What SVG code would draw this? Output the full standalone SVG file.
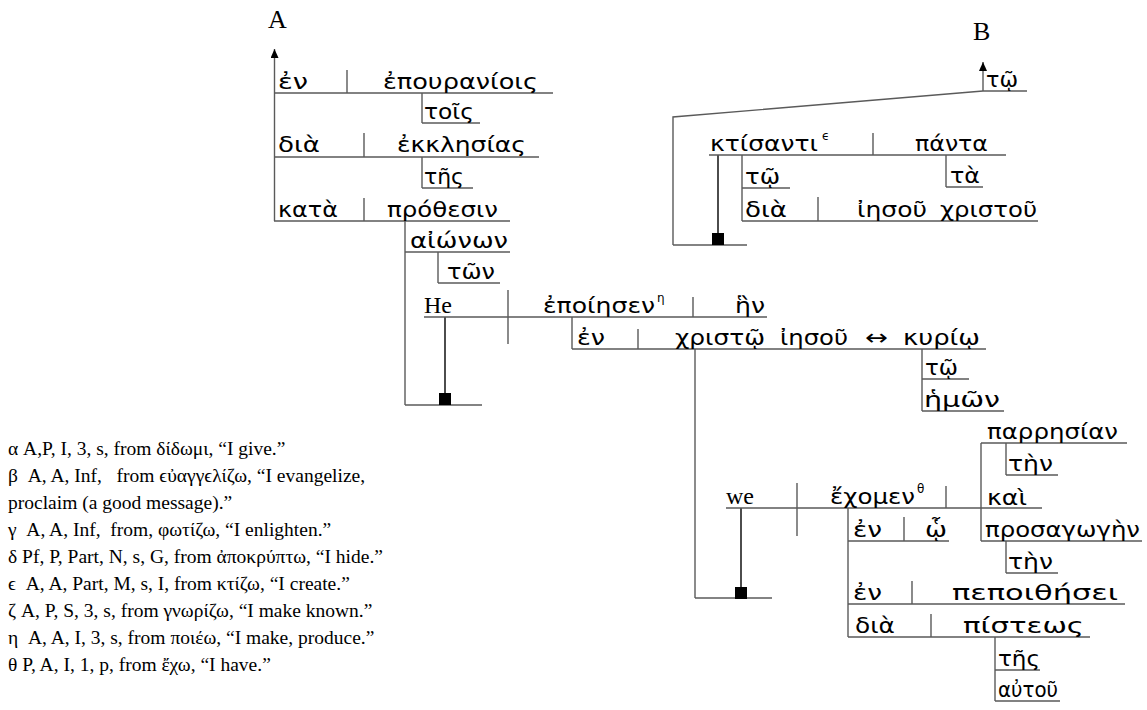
<svg xmlns="http://www.w3.org/2000/svg" width="1147" height="710" viewBox="0 0 1147 710">
  <style>
    .ln { stroke: #5a5a5a; stroke-width: 1.4; fill: none; }
    .stem { stroke: #000; stroke-width: 1.4; fill: none; }
    .sq { fill: #000; }
    .gk { font-family: "DejaVu Sans", "Noto Sans", sans-serif; font-size: 22px; fill: #000; }
    .en { font-family: "Liberation Serif", "Times New Roman", serif; font-size: 24px; fill: #000; }
    .lbl { font-family: "Liberation Serif", "Times New Roman", serif; font-size: 26px; fill: #000; }
    .sup { font-family: "DejaVu Sans", "Noto Sans", sans-serif; font-size: 12px; fill: #000; }
    .note { font-family: "Liberation Serif", "Times New Roman", serif; font-size: 19.5px; fill: #000; white-space: pre; }
  </style>
  <defs>
    <marker id="arrow" markerUnits="userSpaceOnUse" markerWidth="10" markerHeight="10" refX="9" refY="4" orient="auto">
      <path d="M0,0 L9,4 L0,8 z" fill="#000"/>
    </marker>
  </defs>

  <!-- connectors: links between clauses and phrases -->
  <g id="connectors">
    <!-- A: prepositional phrases hang from the arrow stem -->
    <path class="ln" d="M274.5,221 V49" marker-end="url(#arrow)"/>
    <path class="ln" d="M422,93 V123"/>
    <path class="ln" d="M422,157 V188"/>
    <path class="ln" d="M405,221 V405"/>
    <path class="ln" d="M438,252 V283"/>
    <path class="ln" d="M572,317 V349"/>
    <path class="ln" d="M922,349 V411"/>
    <path class="ln" d="M695,349 V598"/>
    <path class="ln" d="M848,508 V637"/>
    <path class="ln" d="M981,443 V541"/>
    <path class="ln" d="M1006,443 V475"/>
    <path class="ln" d="M1006,541 V573"/>
    <path class="ln" d="M995,637 V701"/>
    <!-- B: participle clause -->
    <path class="ln" d="M983,91 V62" marker-end="url(#arrow)"/>
    <path class="ln" d="M983,91 L673,117 V245"/>
    <path class="ln" d="M946,155 V187"/>
    <path class="ln" d="M742,155 V221"/>
    <!-- subject stems to clause bases -->
    <path class="stem" d="M445,317 V393"/>
    <path class="stem" d="M741,508 V587"/>
    <path class="stem" d="M718,155 V233"/>
  </g>

  <!-- A: ἐν ἐπουρανίοις -->
  <g id="pp-epouraniois">
    <path class="ln" d="M274,93 H553 M347,70 V93"/>
    <text class="gk" x="278" y="89" textLength="30" lengthAdjust="spacingAndGlyphs">ἐν</text>
    <text class="gk" x="383" y="89" textLength="155" lengthAdjust="spacingAndGlyphs">ἐπουρανίοις</text>
  </g>
  <g id="art-tois">
    <path class="ln" d="M422,123 H480"/>
    <text class="gk" x="424" y="119" textLength="50" lengthAdjust="spacingAndGlyphs">τοῖς</text>
  </g>
  <g id="pp-ekklesias">
    <path class="ln" d="M274,157 H539 M364,133 V157"/>
    <text class="gk" x="278" y="152" textLength="42" lengthAdjust="spacingAndGlyphs">διὰ</text>
    <text class="gk" x="397" y="152" textLength="129" lengthAdjust="spacingAndGlyphs">ἐκκλησίας</text>
  </g>
  <g id="art-tes-1">
    <path class="ln" d="M422,188 H473"/>
    <text class="gk" x="424" y="184" textLength="40" lengthAdjust="spacingAndGlyphs">τῆς</text>
  </g>
  <g id="pp-prothesin">
    <path class="ln" d="M274,221 H510 M364,198 V221"/>
    <text class="gk" x="278" y="217" textLength="60" lengthAdjust="spacingAndGlyphs">κατὰ</text>
    <text class="gk" x="387" y="217" textLength="111" lengthAdjust="spacingAndGlyphs">πρόθεσιν</text>
  </g>
  <g id="gen-aionon">
    <path class="ln" d="M405,252 H510"/>
    <text class="gk" x="410" y="248" textLength="98" lengthAdjust="spacingAndGlyphs">αἰώνων</text>
  </g>
  <g id="art-ton">
    <path class="ln" d="M438,283 H500"/>
    <text class="gk" x="447" y="279" textLength="48" lengthAdjust="spacingAndGlyphs">τῶν</text>
  </g>
  <g id="base-a">
    <path class="ln" d="M405,405 H482"/>
    <rect class="sq" x="439" y="393" width="12" height="12"/>
  </g>

  <!-- main clause: He ἐποίησεν ἣν -->
  <g id="clause-epoiesen">
    <path class="ln" d="M424,317 H767 M508,290 V344 M693,297 V317"/>
    <text class="en" x="424" y="313">He</text>
    <text class="gk" x="543" y="313" textLength="112" lengthAdjust="spacingAndGlyphs">ἐποίησεν</text>
    <text class="sup" x="657" y="302">η</text>
    <text class="gk" x="735" y="313" textLength="30" lengthAdjust="spacingAndGlyphs">ἣν</text>
  </g>
  <g id="pp-christo">
    <path class="ln" d="M572,349 H986 M638,329 V349"/>
    <text class="gk" x="577" y="345" textLength="28" lengthAdjust="spacingAndGlyphs">ἐν</text>
    <text class="gk" x="675" y="345" textLength="90" lengthAdjust="spacingAndGlyphs">χριστῷ</text>
    <text class="gk" x="780" y="345" textLength="68" lengthAdjust="spacingAndGlyphs">ἰησοῦ</text>
    <text class="gk" x="865" y="345" textLength="23" lengthAdjust="spacingAndGlyphs">↔</text>
    <text class="gk" x="903" y="345" textLength="77" lengthAdjust="spacingAndGlyphs">κυρίῳ</text>
  </g>
  <g id="mod-kyrio">
    <path class="ln" d="M922,379 H969 M922,411 H1004"/>
    <text class="gk" x="925" y="375" textLength="33" lengthAdjust="spacingAndGlyphs">τῷ</text>
    <text class="gk" x="924" y="407" textLength="76" lengthAdjust="spacingAndGlyphs">ἡμῶν</text>
  </g>
  <g id="base-b">
    <path class="ln" d="M695,598 H772"/>
    <rect class="sq" x="735" y="587" width="12" height="12"/>
  </g>

  <!-- relative clause: we ἔχομεν -->
  <g id="clause-echomen">
    <path class="ln" d="M726,508 H1042 M797,483 V536 M946,486 V508"/>
    <text class="en" x="726" y="504">we</text>
    <text class="gk" x="830" y="504" textLength="85" lengthAdjust="spacingAndGlyphs">ἔχομεν</text>
    <text class="sup" x="917" y="493">θ</text>
    <text class="gk" x="987" y="505" textLength="40" lengthAdjust="spacingAndGlyphs">καὶ</text>
  </g>
  <g id="obj-parresian">
    <path class="ln" d="M981,443 H1127 M1006,475 H1058"/>
    <text class="gk" x="987" y="439" textLength="131" lengthAdjust="spacingAndGlyphs">παρρησίαν</text>
    <text class="gk" x="1008" y="471" textLength="45" lengthAdjust="spacingAndGlyphs">τὴν</text>
  </g>
  <g id="obj-prosagogen">
    <path class="ln" d="M981,541 H1142 M1006,573 H1058"/>
    <text class="gk" x="985" y="537" textLength="155" lengthAdjust="spacingAndGlyphs">προσαγωγὴν</text>
    <text class="gk" x="1008" y="569" textLength="45" lengthAdjust="spacingAndGlyphs">τὴν</text>
  </g>
  <g id="pp-ho">
    <path class="ln" d="M848,541 H949 M904,517 V541"/>
    <text class="gk" x="853" y="537" textLength="29" lengthAdjust="spacingAndGlyphs">ἐν</text>
    <text class="gk" x="925" y="537" textLength="22" lengthAdjust="spacingAndGlyphs">ᾧ</text>
  </g>
  <g id="pp-pepoithesei">
    <path class="ln" d="M848,604 H1125 M912,581 V604"/>
    <text class="gk" x="853" y="600" textLength="29" lengthAdjust="spacingAndGlyphs">ἐν</text>
    <text class="gk" x="952" y="600" textLength="166" lengthAdjust="spacingAndGlyphs">πεποιθήσει</text>
  </g>
  <g id="pp-pisteos">
    <path class="ln" d="M848,637 H1090 M931,614 V637"/>
    <text class="gk" x="855" y="633" textLength="40" lengthAdjust="spacingAndGlyphs">διὰ</text>
    <text class="gk" x="963" y="633" textLength="121" lengthAdjust="spacingAndGlyphs">πίστεως</text>
  </g>
  <g id="mod-pisteos">
    <path class="ln" d="M995,670 H1040 M995,701 H1060"/>
    <text class="gk" x="998" y="666" textLength="42" lengthAdjust="spacingAndGlyphs">τῆς</text>
    <text class="gk" x="998" y="697" textLength="60" lengthAdjust="spacingAndGlyphs">αὐτοῦ</text>
  </g>

  <!-- B: τῷ κτίσαντι τὰ πάντα -->
  <g id="art-to-b">
    <path class="ln" d="M983,91 H1027"/>
    <text class="gk" x="986" y="87" textLength="32" lengthAdjust="spacingAndGlyphs">τῷ</text>
  </g>
  <g id="clause-ktisanti">
    <path class="ln" d="M709,155 H1006 M873,133 V155"/>
    <text class="gk" x="710" y="151" textLength="108" lengthAdjust="spacingAndGlyphs">κτίσαντι</text>
    <text class="sup" x="822" y="140">ϵ</text>
    <text class="gk" x="915" y="151" textLength="73" lengthAdjust="spacingAndGlyphs">πάντα</text>
  </g>
  <g id="art-ta">
    <path class="ln" d="M946,187 H983"/>
    <text class="gk" x="950" y="183" textLength="30" lengthAdjust="spacingAndGlyphs">τὰ</text>
  </g>
  <g id="art-to-c">
    <path class="ln" d="M742,188 H790"/>
    <text class="gk" x="745" y="184" textLength="35" lengthAdjust="spacingAndGlyphs">τῷ</text>
  </g>
  <g id="pp-iesou">
    <path class="ln" d="M742,221 H1038 M818,197 V221"/>
    <text class="gk" x="745" y="217" textLength="42" lengthAdjust="spacingAndGlyphs">διὰ</text>
    <text class="gk" x="857" y="217" textLength="70" lengthAdjust="spacingAndGlyphs">ἰησοῦ</text>
    <text class="gk" x="940" y="217" textLength="97" lengthAdjust="spacingAndGlyphs">χριστοῦ</text>
  </g>
  <g id="base-c">
    <path class="ln" d="M673,245 H747"/>
    <rect class="sq" x="712" y="233" width="12" height="12"/>
  </g>

  <!-- sheet labels -->
  <text class="lbl" x="268" y="28">A</text>
  <text class="lbl" x="973" y="40">B</text>

  <!-- parsing notes -->
  <g id="notes">
    <text class="note" x="8" y="455">α A,P, I, 3, s, from δίδωμι, “I give.”</text>
    <text class="note" x="8" y="482">β  A, A, Inf,   from ϵὐαγγϵλίζω, “I evangelize,</text>
    <text class="note" x="8" y="509">proclaim (a good message).”</text>
    <text class="note" x="8" y="536">γ  A, A, Inf,  from, φωτίζω, “I enlighten.”</text>
    <text class="note" x="8" y="563">δ Pf, P, Part, N, s, G, from ἀποκρύπτω, “I hide.”</text>
    <text class="note" x="8" y="590">ϵ  A, A, Part, M, s, I, from κτίζω, “I create.”</text>
    <text class="note" x="8" y="617">ζ A, P, S, 3, s, from γνωρίζω, “I make known.”</text>
    <text class="note" x="8" y="644">η  A, A, I, 3, s, from ποιέω, “I make, produce.”</text>
    <text class="note" x="8" y="671">θ P, A, I, 1, p, from ἔχω, “I have.”</text>
  </g>
</svg>
